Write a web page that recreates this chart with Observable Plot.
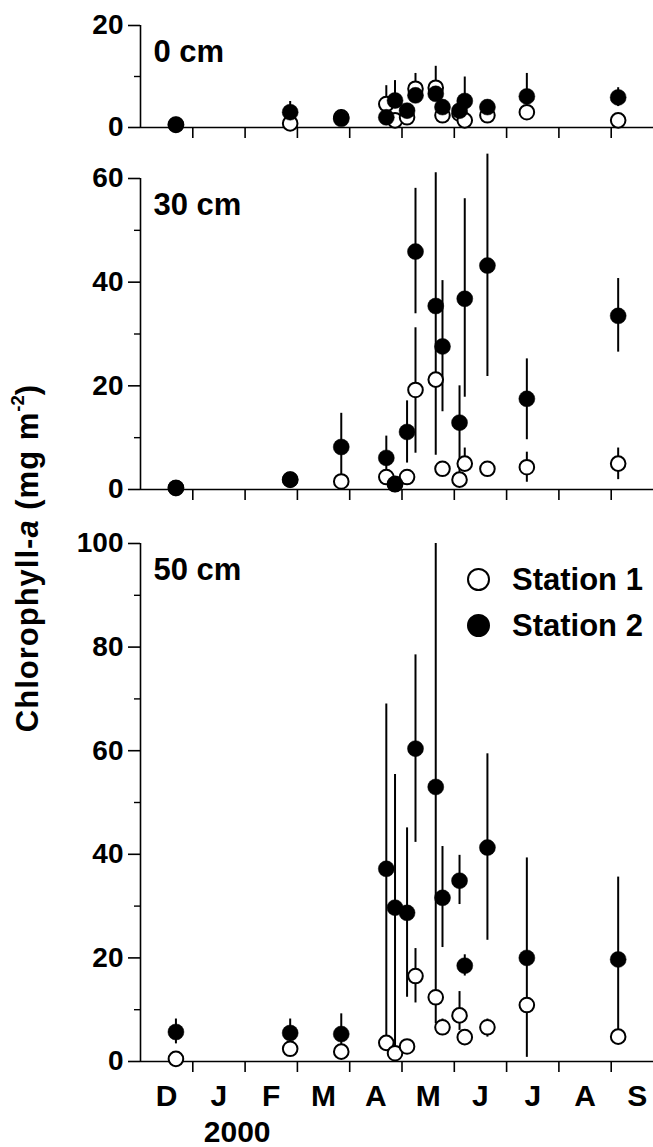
<!DOCTYPE html>
<html><head><meta charset="utf-8">
<script src="https://cdn.jsdelivr.net/npm/d3@7"></script>
<script src="https://cdn.jsdelivr.net/npm/@observablehq/plot@0.6"></script>
<style>
body{margin:0;background:#fff;}
#wrap{position:relative;width:653px;height:1147px;overflow:hidden;font-family:"Liberation Sans",Arial,Helvetica,sans-serif;font-weight:bold;color:#000;}
#wrap svg{display:block;overflow:visible;}
#ylab{position:absolute;left:26.5px;top:558px;transform:translate(-50%,-50%) rotate(-90deg);white-space:nowrap;font-size:31px;line-height:31px;letter-spacing:1px;}
#ylab sup{font-size:60%;line-height:0;position:relative;top:-0.15em;vertical-align:super;letter-spacing:0;}
.legtxt{position:absolute;font-size:31px;line-height:31px;white-space:nowrap;}
.legdot{position:absolute;width:23px;height:23px;border-radius:50%;box-sizing:border-box;}
</style></head><body><div id="wrap"></div>
<script>
// Sampling dates
const dates = ["1999-12-22","2000-02-26","2000-03-27","2000-04-22","2000-04-27","2000-05-04","2000-05-09",
               "2000-05-21","2000-05-25","2000-06-04","2000-06-07","2000-06-20","2000-07-13","2000-09-05"];
const monthLabels = ["D","J","F","M","A","M","J","J","A","S"];
const yearLabel = "2000";
const depthLabels = ["0 cm","30 cm","50 cm"];
const seriesLabels = ["Station 1","Station 2"];

// 0 cm
const st1_0cm    = [0.5, 0.8, 2.0, 4.6, 1.4, 2.0, 7.6, 7.8, 2.4, 2.7, 1.4, 2.4, 3.0, 1.4];
const st1_0cm_lo = [null,null,null,4.6,null,null,7.6,7.8,null,null,null,null,null,null];
const st1_0cm_hi = [null,null,null,8.2,null,null,10.6,12.0,null,null,null,null,null,null];
const st2_0cm    = [0.6, 3.0, 1.7, 2.0, 5.3, 3.3, 6.3, 6.6, 4.0, 3.3, 5.2, 4.0, 6.1, 5.9];
const st2_0cm_lo = [null,3.0,1.7,null,5.3,null,null,null,null,null,5.2,null,6.1,4.1];
const st2_0cm_hi = [null,5.1,3.5,null,9.2,null,null,null,null,null,9.9,null,10.6,7.8];

// 30 cm
const st1_30cm    = [0.3, 1.9, 1.55, 2.4, 1.0, 2.4, 19.2, 21.2, 4.0, 1.9, 5.0, 4.0, 4.3, 5.0];
const st1_30cm_lo = [null,null,null,null,null,null,7.0,null,null,null,5.0,null,1.4,1.9];
const st1_30cm_hi = [null,null,null,null,null,null,31.2,null,null,null,8.0,null,7.2,8.0];
const st2_30cm    = [0.3, 1.9, 8.2, 6.1, 1.1, 11.1, 45.9, 35.4, 27.6, 12.9, 36.8, 43.2, 17.5, 33.5];
const st2_30cm_lo = [null,null,1.55,2.4,null,5.1,33.9,6.6,15.0,1.9,17.8,21.8,9.6,26.5];
const st2_30cm_hi = [null,null,14.7,10.3,null,17.1,58.1,61.1,40.3,20.0,56.1,64.7,25.2,40.7];

// 50 cm
const st1_50cm    = [0.5, 2.45, 1.9, 3.6, 1.6, 2.9, 16.5, 12.4, 6.6, 8.9, 4.7, 6.6, 10.9, 4.8];
const st1_50cm_lo = [null,null,null,null,null,null,11.3,null,5.0,6.0,null,4.7,0.8,null];
const st1_50cm_hi = [null,null,null,null,null,null,21.8,null,8.2,13.5,null,8.2,10.9,null];
const st2_50cm    = [5.7, 5.5, 5.3, 37.2, 29.7, 28.7, 60.4, 53.0, 31.6, 34.9, 18.5, 41.3, 20.0, 19.7];
const st2_50cm_lo = [3.4, 2.45, 1.9, 3.6, 1.6, 12.4, 42.3, 7.3, 22.0, 30.3, 16.5, 23.4, 10.9, 4.8];
const st2_50cm_hi = [8.2, 8.2, 9.2, 69.0, 55.4, 45.1, 78.5, 100, 41.5, 39.8, 20.6, 59.4, 39.3, 35.6];

// months since 1 Dec 1999 (uniform month spacing, as on the original axis)
function monthPos(s){
  const [y,m,d] = s.split("-").map(Number);
  const dim = new Date(y, m, 0).getDate();
  return (y - 1999) * 12 + (m - 1) - 11 + (d - 1) / dim;
}
const xs = dates.map(monthPos);
const FONT = "'Liberation Sans', Arial, Helvetica, sans-serif";

function rows(v, lo, hi){
  return v.map((d, i) => ({x: xs[i], v: d, lo: lo[i], hi: hi[i]}));
}

function panel({label, ymax, height, marginTop, marginBottom, s1, s2, bottom}){
  const marks = [
    Plot.ruleX([0], {y1: 0, y2: ymax, strokeWidth: 1.6}),
    Plot.ruleY([0], {strokeWidth: 1.6}),
    Plot.axisY({ticks: d3.range(0, ymax + 1, 20), tickSize: 12, tickPadding: 5, strokeWidth: 1.6, label: null,
                fontSize: 28, fontWeight: "bold", tickFormat: d => String(d)}),
    Plot.axisY({ticks: d3.range(10, ymax, 20), tickSize: 6, text: null, strokeWidth: 1.4, label: null}),
    Plot.axisX({ticks: d3.range(1, 10), tickSize: 11, text: null, strokeWidth: 1.6, label: null}),
    Plot.ruleX(s1.filter(d => d.lo != null), {x: "x", y1: "lo", y2: "hi", strokeWidth: 2}),
    Plot.ruleX(s2.filter(d => d.lo != null), {x: "x", y1: "lo", y2: "hi", strokeWidth: 2}),
    Plot.dot(s1, {x: "x", y: "v", r: 7.3, fill: "white", stroke: "black", strokeWidth: 2}),
    Plot.dot(s2, {x: "x", y: "v", r: 8, fill: "black", stroke: "black", strokeWidth: 0.5}),
    Plot.text([label], {frameAnchor: "top-left", textAnchor: "start", lineAnchor: "middle",
                        dx: 13, dy: 27, fontSize: 31, fontWeight: "bold"})
  ];
  if (bottom) {
    marks.push(Plot.text(monthLabels, {x: (d, i) => i + 0.5, frameAnchor: "bottom", lineAnchor: "middle",
                                       dy: 35, fontSize: 30, fontWeight: "bold"}));
    marks.push(Plot.text([yearLabel], {x: () => monthPos("2000-01-01"), frameAnchor: "bottom", textAnchor: "start",
                                       lineAnchor: "middle", dx: 11, dy: 71, fontSize: 30, fontWeight: "bold"}));
  }
  return Plot.plot({
    width: 653, height, marginLeft: 140, marginRight: 0, marginTop, marginBottom,
    x: {domain: [0, 513 / 52.3], axis: null, label: null},
    y: {domain: [0, ymax], axis: null, label: null},
    style: {fontFamily: FONT, fontWeight: "bold", background: "white", color: "black", overflow: "visible"},
    marks
  });
}

const wrap = document.getElementById("wrap");
wrap.append(panel({label: depthLabels[0], ymax: 20, height: 140, marginTop: 25, marginBottom: 13,
  s1: rows(st1_0cm, st1_0cm_lo, st1_0cm_hi), s2: rows(st2_0cm, st2_0cm_lo, st2_0cm_hi)}));
wrap.append(panel({label: depthLabels[1], ymax: 60, height: 360, marginTop: 38, marginBottom: 11,
  s1: rows(st1_30cm, st1_30cm_lo, st1_30cm_hi), s2: rows(st2_30cm, st2_30cm_lo, st2_30cm_hi)}));
wrap.append(panel({label: depthLabels[2], ymax: 100, height: 647, marginTop: 43, marginBottom: 86,
  s1: rows(st1_50cm, st1_50cm_lo, st1_50cm_hi), s2: rows(st2_50cm, st2_50cm_lo, st2_50cm_hi), bottom: true}));

// y-axis title
const yl = document.createElement("div");
yl.id = "ylab";
yl.innerHTML = "Chlorophyll-<i>a</i> (mg m<sup>-2</sup>)";
wrap.append(yl);

// legend
[{label: seriesLabels[0], open: true, cy: 579}, {label: seriesLabels[1], open: false, cy: 625}].forEach(L => {
  const dot = document.createElement("div");
  dot.className = "legdot";
  dot.style.left = (478 - 11.5) + "px";
  dot.style.top = (L.cy - 11.5) + "px";
  dot.style.background = L.open ? "white" : "black";
  dot.style.border = "2.2px solid black";
  wrap.append(dot);
  const t = document.createElement("div");
  t.className = "legtxt";
  t.textContent = L.label;
  t.style.left = "512px";
  t.style.top = (L.cy + 11 - 26.2) + "px";
  wrap.append(t);
});
</script></body></html>
